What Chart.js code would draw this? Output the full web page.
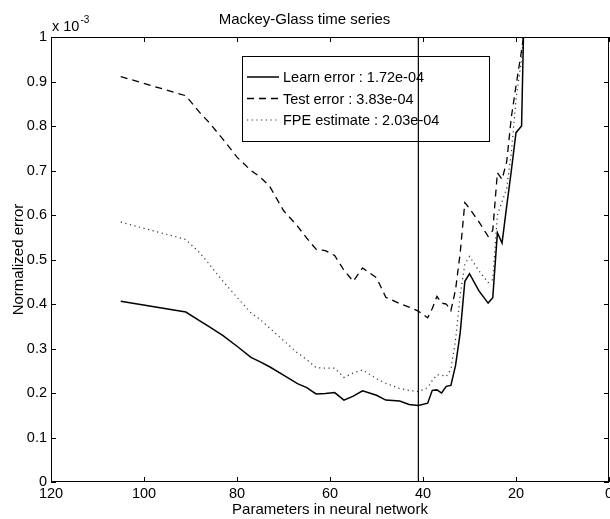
<!DOCTYPE html>
<html>
<head>
<meta charset="utf-8">
<script src="https://cdn.jsdelivr.net/npm/chart.js@4.4.1/dist/chart.umd.min.js"></script>
<style>
  html, body { margin: 0; padding: 0; background: #fff; overflow: hidden; }
  #wrap { position: absolute; left: 0; top: 0; width: 640px; height: 519px; }
</style>
</head>
<body>
<div id="wrap"><canvas id="c" width="640" height="519"></canvas></div>
<script>
// ---- data (y in units of 1e-3) ----
const params      = [105, 91, 88, 86, 83, 80, 77, 75, 73, 70, 67, 65, 63, 61, 59, 57, 55, 53, 50, 48, 45, 43, 41, 39, 38, 37, 36, 35, 34, 33, 32, 31, 30, 28, 26, 25, 24, 23, 22, 21, 20, 18.8, 18.4];
const learnError  = [0.406, 0.382, 0.362, 0.349, 0.329, 0.305, 0.280, 0.270, 0.259, 0.240, 0.221, 0.212, 0.198, 0.199, 0.201, 0.184, 0.193, 0.205, 0.195, 0.184, 0.182, 0.174, 0.172, 0.177, 0.206, 0.207, 0.200, 0.215, 0.217, 0.262, 0.335, 0.451, 0.468, 0.430, 0.402, 0.414, 0.560, 0.537, 0.620, 0.700, 0.785, 0.800, 1.000];
const testError   = [0.911, 0.868, 0.830, 0.808, 0.770, 0.730, 0.700, 0.685, 0.665, 0.610, 0.575, 0.548, 0.523, 0.520, 0.509, 0.476, 0.451, 0.481, 0.459, 0.415, 0.401, 0.393, 0.384, 0.369, 0.390, 0.417, 0.402, 0.400, 0.385, 0.432, 0.515, 0.628, 0.615, 0.585, 0.552, 0.565, 0.695, 0.680, 0.720, 0.820, 0.890, 0.970, 1.000];
const fpeEstimate = [0.584, 0.545, 0.515, 0.490, 0.451, 0.415, 0.380, 0.365, 0.346, 0.318, 0.290, 0.275, 0.257, 0.256, 0.256, 0.235, 0.245, 0.252, 0.232, 0.222, 0.210, 0.206, 0.203, 0.212, 0.228, 0.241, 0.240, 0.237, 0.253, 0.320, 0.420, 0.490, 0.507, 0.475, 0.448, 0.455, 0.600, 0.630, 0.660, 0.740, 0.860, 0.950, 1.000];
const optimumParams = 41;
const seriesLabels = ['Learn error : 1.72e-04', 'Test error : 3.83e-04', 'FPE estimate : 2.03e-04'];
const xTickValues = [120, 100, 80, 60, 40, 20, 0];
const yTickValues = [0, 0.1, 0.2, 0.3, 0.4, 0.5, 0.6, 0.7, 0.8, 0.9, 1];

const FONT = "'Liberation Sans', Arial, Helvetica, sans-serif";
const toPts = (ys) => params.map((x, i) => ({ x: x, y: ys[i] }));

const styles = [
  { borderColor: '#000', borderWidth: 1.5, borderDash: [] },
  { borderColor: '#000', borderWidth: 1.3, borderDash: [7, 5] },
  { borderColor: '#333', borderWidth: 1.2, borderDash: [1.2, 3.5] }
];

// frame, inward ticks, exponent label
const framePlugin = {
  id: 'frame',
  afterDatasetsDraw(chart) {
    const { ctx, chartArea: a, scales: { x, y } } = chart;
    ctx.save();
    ctx.strokeStyle = '#000';
    ctx.lineWidth = 1;
    ctx.setLineDash([]);
    ctx.strokeRect(a.left + 0.5, a.top + 0.5, a.right - a.left - 1, a.bottom - a.top - 1);
    const tl = 5;
    ctx.beginPath();
    xTickValues.forEach(v => {
      const px = Math.round(x.getPixelForValue(v)) + 0.5;
      ctx.moveTo(px, a.bottom); ctx.lineTo(px, a.bottom - tl);
      ctx.moveTo(px, a.top); ctx.lineTo(px, a.top + tl);
    });
    yTickValues.forEach(v => {
      const py = Math.round(y.getPixelForValue(v)) + 0.5;
      ctx.moveTo(a.left, py); ctx.lineTo(a.left + tl, py);
      ctx.moveTo(a.right, py); ctx.lineTo(a.right - tl, py);
    });
    ctx.stroke();
    // exponent
    ctx.fillStyle = '#000';
    ctx.textBaseline = 'alphabetic';
    ctx.textAlign = 'left';
    ctx.font = '14.5px ' + FONT;
    ctx.fillText('x 10', a.left + 1, 31);
    const w = ctx.measureText('x 10').width;
    ctx.font = '10px ' + FONT;
    ctx.fillText('-3', a.left + 2 + w, 23);
    ctx.restore();
  }
};

// legend box inside the plot
const legendBoxPlugin = {
  id: 'legendBox',
  beforeDatasetsDraw(chart) {
    const { ctx } = chart;
    const bx = 242, by = 56, bw = 247, bh = 85;
    ctx.save();
    ctx.fillStyle = '#fff';
    ctx.fillRect(bx, by, bw, bh);
    ctx.strokeStyle = '#000';
    ctx.lineWidth = 1;
    ctx.strokeRect(bx + 0.5, by + 0.5, bw, bh);
    const rows = [77, 98.5, 120];
    ctx.font = '14.5px ' + FONT;
    ctx.textBaseline = 'middle';
    ctx.textAlign = 'left';
    rows.forEach((ry, i) => {
      const s = styles[i];
      ctx.strokeStyle = s.borderColor;
      ctx.lineWidth = s.borderWidth;
      ctx.setLineDash(s.borderDash);
      ctx.beginPath();
      ctx.moveTo(247, ry); ctx.lineTo(279, ry);
      ctx.stroke();
      ctx.setLineDash([]);
      ctx.fillStyle = '#000';
      ctx.fillText(seriesLabels[i], 283, ry + 1);
    });
    ctx.restore();
  }
};

const datasets = [learnError, testError, fpeEstimate].map((ys, i) => ({
  label: seriesLabels[i],
  data: toPts(ys),
  borderColor: styles[i].borderColor,
  borderWidth: styles[i].borderWidth,
  borderDash: styles[i].borderDash,
  pointRadius: 0,
  fill: false,
  tension: 0
}));
datasets.push({
  label: 'optimum',
  data: [{ x: optimumParams, y: 0 }, { x: optimumParams, y: 1 }],
  borderColor: '#000',
  borderWidth: 1.2,
  pointRadius: 0,
  fill: false
});

new Chart(document.getElementById('c'), {
  type: 'line',
  data: { datasets: datasets },
  options: {
    responsive: false,
    animation: false,
    layout: { padding: { left: 0, right: 31, top: 0, bottom: 0 } },
    plugins: {
      legend: { display: false },
      tooltip: { enabled: false },
      title: {
        display: true,
        text: 'Mackey-Glass time series',
        color: '#000',
        font: { family: FONT, size: 15, weight: 'normal' },
        padding: { top: 11, bottom: 8 }
      }
    },
    scales: {
      x: {
        type: 'linear',
        reverse: true,
        min: 0,
        max: 120,
        afterFit(s) { s.height = 37; },
        afterBuildTicks(s) { s.ticks = xTickValues.map(v => ({ value: v })); },
        grid: { display: false, drawTicks: false },
        border: { display: false },
        ticks: {
          color: '#000',
          padding: 3,
          maxRotation: 0,
          autoSkip: false,
          font: { family: FONT, size: 14.5 },
          callback: v => String(v)
        },
        title: {
          display: true,
          text: 'Parameters in neural network',
          color: '#000',
          font: { family: FONT, size: 15 },
          padding: { top: 0, bottom: 0 }
        }
      },
      y: {
        type: 'linear',
        min: 0,
        max: 1,
        afterFit(s) { s.width = 51; },
        afterBuildTicks(s) { s.ticks = yTickValues.map(v => ({ value: v })); },
        grid: { display: false, drawTicks: false },
        border: { display: false },
        ticks: {
          color: '#000',
          padding: 4,
          autoSkip: false,
          font: { family: FONT, size: 14.5 },
          callback: v => String(Number(v.toFixed(1)))
        },
        title: {
          display: true,
          text: 'Normalized error',
          color: '#000',
          font: { family: FONT, size: 15 },
          padding: { top: 10, bottom: 0 }
        }
      }
    }
  },
  plugins: [legendBoxPlugin, framePlugin]
});
</script>
</body>
</html>
